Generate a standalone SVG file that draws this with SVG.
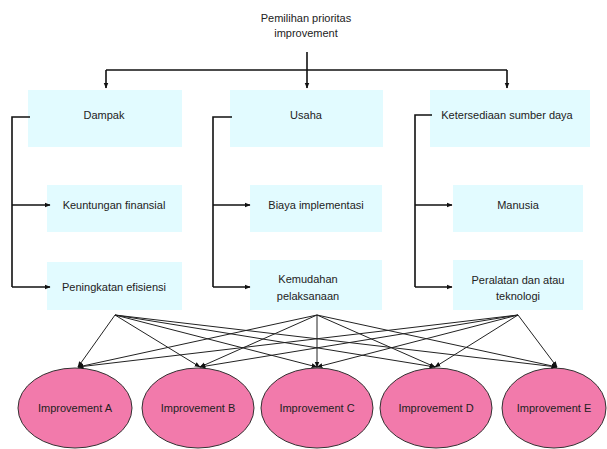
<svg xmlns="http://www.w3.org/2000/svg" width="607" height="449" viewBox="0 0 607 449">
<defs>
<marker id="ah" viewBox="0 0 10 10" refX="9" refY="5" markerWidth="6" markerHeight="6" orient="auto" markerUnits="userSpaceOnUse">
<path d="M0,1 L10,5 L0,9 z" fill="#111"/>
</marker>
</defs>
<style>
.box{fill:#e2fbff;stroke:none}
.ell{fill:#f27aab;stroke:#333;stroke-width:1}
.t{font-family:"Liberation Sans",Arial,sans-serif;font-size:11px;fill:#222;text-anchor:middle;dominant-baseline:central}
.ln{stroke:#111;stroke-width:1.6;fill:none}
.ln2{stroke:#222;stroke-width:1;fill:none}
</style>
<rect width="607" height="449" fill="#fff"/>
<g id="title"><text class="t" x="306" y="18">Pemilihan prioritas</text><text class="t" x="306" y="33">improvement</text></g>
<g id="dampak"><rect class="box" x="28" y="90" width="154" height="57"/><text class="t" x="104" y="115">Dampak</text></g>
<g id="usaha"><rect class="box" x="230" y="90" width="153" height="57"/><text class="t" x="306" y="115">Usaha</text></g>
<g id="ketersediaan"><rect class="box" x="430" y="90" width="160" height="57"/><text class="t" x="507" y="115">Ketersediaan sumber daya</text></g>
<g id="keuntungan"><rect class="box" x="47" y="185" width="135" height="47"/><text class="t" x="114" y="205">Keuntungan finansial</text></g>
<g id="biaya"><rect class="box" x="250" y="185" width="132" height="47"/><text class="t" x="316" y="205">Biaya implementasi</text></g>
<g id="manusia"><rect class="box" x="453" y="185" width="130" height="47"/><text class="t" x="518" y="205">Manusia</text></g>
<g id="peningkatan"><rect class="box" x="47" y="262" width="135" height="48"/><text class="t" x="114" y="287">Peningkatan efisiensi</text></g>
<g id="kemudahan"><rect class="box" x="250" y="260" width="132" height="50"/><text class="t" x="308" y="279">Kemudahan</text><text class="t" x="308" y="296">pelaksanaan</text></g>
<g id="peralatan"><rect class="box" x="453" y="260" width="130" height="50"/><text class="t" x="518" y="280">Peralatan dan atau</text><text class="t" x="518" y="296">teknologi</text></g>
<g id="impA"><ellipse class="ell" cx="75" cy="408" rx="57" ry="40"/><text class="t" x="75" y="408">Improvement A</text></g>
<g id="impB"><ellipse class="ell" cx="198" cy="408" rx="56" ry="40"/><text class="t" x="198" y="408">Improvement B</text></g>
<g id="impC"><ellipse class="ell" cx="317" cy="408" rx="56" ry="40"/><text class="t" x="317" y="408">Improvement C</text></g>
<g id="impD"><ellipse class="ell" cx="436" cy="408" rx="56" ry="40"/><text class="t" x="436" y="408">Improvement D</text></g>
<g id="impE"><ellipse class="ell" cx="554" cy="408" rx="52" ry="40"/><text class="t" x="554" y="408">Improvement E</text></g>
<g id="connectors">
<path class="ln" d="M307,52 V70"/>
<path class="ln" d="M106,70 H507"/>
<path class="ln" d="M106,70 V88" marker-end="url(#ah)"/>
<path class="ln" d="M307,70 V88" marker-end="url(#ah)"/>
<path class="ln" d="M507,70 V88" marker-end="url(#ah)"/>
<path class="ln" d="M30,117 H12 V287"/>
<path class="ln" d="M12,205 H50" marker-end="url(#ah)"/>
<path class="ln" d="M12,287 H50" marker-end="url(#ah)"/>
<path class="ln" d="M232,117 H213 V287"/>
<path class="ln" d="M213,205 H250" marker-end="url(#ah)"/>
<path class="ln" d="M213,287 H250" marker-end="url(#ah)"/>
<path class="ln" d="M432,115 H415 V287"/>
<path class="ln" d="M415,205 H452" marker-end="url(#ah)"/>
<path class="ln" d="M415,287 H452" marker-end="url(#ah)"/>
<path class="ln2" d="M115,315 L78,367" marker-end="url(#ah)"/>
<path class="ln2" d="M115,315 L200,367" marker-end="url(#ah)"/>
<path class="ln2" d="M115,315 L317,367" marker-end="url(#ah)"/>
<path class="ln2" d="M115,315 L435,367" marker-end="url(#ah)"/>
<path class="ln2" d="M115,315 L557,367" marker-end="url(#ah)"/>
<path class="ln2" d="M317,315 L78,367" marker-end="url(#ah)"/>
<path class="ln2" d="M317,315 L200,367" marker-end="url(#ah)"/>
<path class="ln2" d="M317,315 L317,367" marker-end="url(#ah)"/>
<path class="ln2" d="M317,315 L435,367" marker-end="url(#ah)"/>
<path class="ln2" d="M317,315 L557,367" marker-end="url(#ah)"/>
<path class="ln2" d="M518,315 L78,367" marker-end="url(#ah)"/>
<path class="ln2" d="M518,315 L200,367" marker-end="url(#ah)"/>
<path class="ln2" d="M518,315 L317,367" marker-end="url(#ah)"/>
<path class="ln2" d="M518,315 L435,367" marker-end="url(#ah)"/>
<path class="ln2" d="M518,315 L557,367" marker-end="url(#ah)"/>
</g>
</svg>
